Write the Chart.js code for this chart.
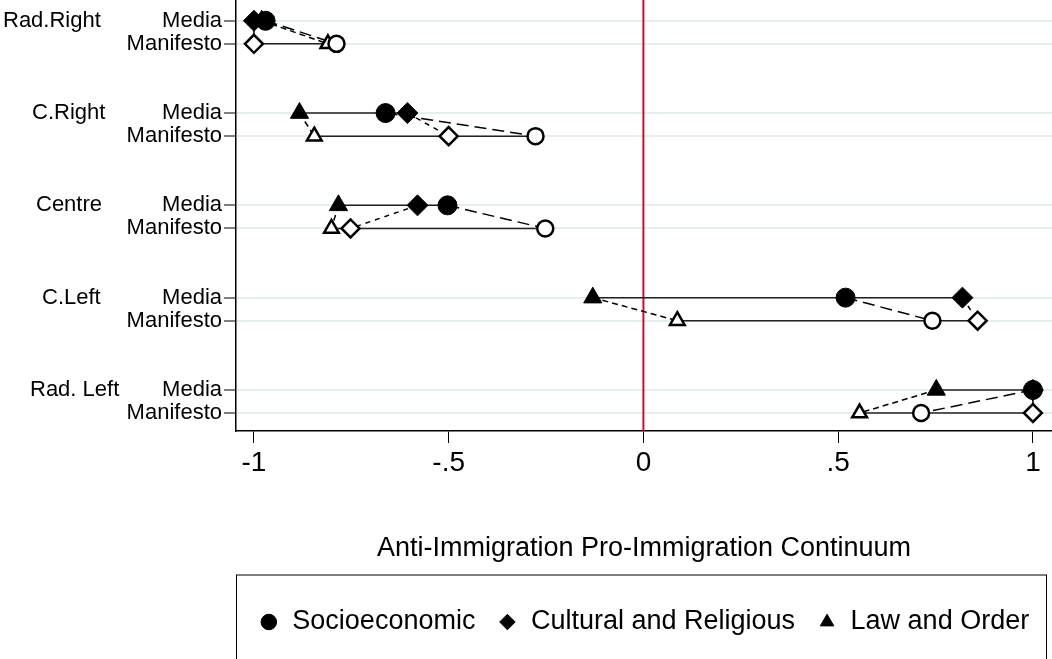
<!DOCTYPE html>
<html>
<head>
<meta charset="utf-8">
<title>Immigration positions by party family</title>
<script src="https://cdn.jsdelivr.net/npm/chart.js@4.4.1/dist/chart.umd.min.js"></script>
<style>
  html, body { margin: 0; padding: 0; background: #fff; }
  #wrap { width: 1052px; height: 659px; }
</style>
</head>
<body>
<div id="wrap"><canvas id="continuumChart" width="1052" height="659"></canvas></div>
<script>
// Party families (top to bottom) and the two sources per family
const groups = ['Rad.Right', 'C.Right', 'Centre', 'C.Left', 'Rad. Left'];
const sources = ['Media', 'Manifesto'];

// Positions on the anti/pro immigration continuum
const socioMedia       = [-0.97, -0.662, -0.503, 0.519, 1.0];
const socioManifesto   = [-0.788, -0.277, -0.252, 0.742, 0.713];
const cultureMedia     = [-1.0, -0.606, -0.58, 0.819, 1.0];
const cultureManifesto = [-1.0, -0.50, -0.752, 0.858, 1.0];
const lawMedia         = [-0.98, -0.883, -0.783, -0.13, 0.752];
const lawManifesto     = [-0.81, -0.845, -0.801, 0.087, 0.555];

const xTicks = [-1, -0.5, 0, 0.5, 1];
const zeroLine = 0;

Chart.defaults.font.family = '"Liberation Sans", Arial, Helvetica, sans-serif';
Chart.defaults.color = '#000';

// each family takes 4 slots on the y scale: media row, manifesto row, gap
const rowY = (g, s) => g * 4 + s;
const rowValues = [];
groups.forEach((_, g) => sources.forEach((_, s) => rowValues.push(rowY(g, s))));

function markerPoints(values, s) {
  return values.map((v, g) => ({ x: v, y: rowY(g, s) }));
}

function connectorPoints(media, manifesto) {
  const pts = [];
  groups.forEach((_, g) => {
    pts.push({ x: media[g], y: rowY(g, 0) }, { x: manifesto[g], y: rowY(g, 1) }, { x: NaN, y: NaN });
  });
  return pts;
}

function rangePoints(series, s) {
  const pts = [];
  groups.forEach((_, g) => {
    const vals = series.map(arr => arr[g]);
    pts.push({ x: Math.min(...vals), y: rowY(g, s) }, { x: Math.max(...vals), y: rowY(g, s) }, { x: NaN, y: NaN });
  });
  return pts;
}

const filled = { backgroundColor: '#000', borderColor: '#000', borderWidth: 1 };
const hollow = { backgroundColor: '#fff', borderColor: '#000', borderWidth: 2.5 };
const lineBase = { showLine: true, pointRadius: 0, spanGaps: false, fill: false, borderColor: '#000', borderWidth: 1.5 };

const datasets = [
  { label: 'Socioeconomic', data: markerPoints(socioMedia, 0), pointStyle: 'circle', pointRadius: 9.5, ...filled },
  { label: 'Cultural and Religious', data: markerPoints(cultureMedia, 0), pointStyle: 'rectRot', pointRadius: 10.5, ...filled },
  { label: 'Law and Order', data: markerPoints(lawMedia, 0), pointStyle: 'triangle', pointRadius: 10.5, ...filled },
  { label: 'Socioeconomic (manifesto)', data: markerPoints(socioManifesto, 1), pointStyle: 'circle', pointRadius: 8, ...hollow },
  { label: 'Cultural (manifesto)', data: markerPoints(cultureManifesto, 1), pointStyle: 'rectRot', pointRadius: 9, ...hollow },
  { label: 'Law (manifesto)', data: markerPoints(lawManifesto, 1), pointStyle: 'triangle', pointRadius: 8.5, ...hollow },
  { label: 'socio link', data: connectorPoints(socioMedia, socioManifesto), ...lineBase, borderDash: [12, 6] },
  { label: 'culture link', data: connectorPoints(cultureMedia, cultureManifesto), ...lineBase, borderDash: [5, 5] },
  { label: 'law link', data: connectorPoints(lawMedia, lawManifesto), ...lineBase, borderDash: [6, 4] },
  { label: 'media range', data: rangePoints([socioMedia, cultureMedia, lawMedia], 0), ...lineBase, borderColor: '#222' },
  { label: 'manifesto range', data: rangePoints([socioManifesto, cultureManifesto, lawManifesto], 1), ...lineBase, borderColor: '#222' }
];

// vertical reference line at 0
const zeroLinePlugin = {
  id: 'zeroLine',
  beforeDatasetsDraw(chart) {
    const { ctx, chartArea, scales } = chart;
    const x = scales.x.getPixelForValue(zeroLine);
    ctx.save();
    ctx.strokeStyle = '#c8102e';
    ctx.lineWidth = 2;
    ctx.beginPath();
    ctx.moveTo(x, chartArea.top);
    ctx.lineTo(x, chartArea.bottom);
    ctx.stroke();
    ctx.restore();
  }
};

// family names to the left of the Media/Manifesto labels, plus the legend frame
const groupLabelX = [3, 32, 36, 42, 30];
const extrasPlugin = {
  id: 'extras',
  afterDraw(chart) {
    const { ctx, scales, legend } = chart;
    ctx.save();
    ctx.fillStyle = '#000';
    ctx.font = '22px "Liberation Sans", Arial, sans-serif';
    ctx.textAlign = 'left';
    ctx.textBaseline = 'middle';
    groups.forEach((name, g) => {
      ctx.fillText(name, groupLabelX[g], scales.y.getPixelForValue(rowY(g, 0)));
    });
    ctx.strokeStyle = '#000';
    ctx.lineWidth = 1;
    ctx.strokeRect(legend.left + 0.5, legend.top - 11.5, legend.width - 6, 120);
    ctx.restore();
  }
};

new Chart(document.getElementById('continuumChart'), {
  type: 'scatter',
  data: { datasets },
  options: {
    responsive: false,
    animation: false,
    events: [],
    layout: { autoPadding: false, padding: { top: 0, right: 0, left: 0, bottom: 13.5 } },
    scales: {
      x: {
        type: 'linear',
        min: -1.046,
        max: 1.049,
        afterBuildTicks: s => { s.ticks = xTicks.map(v => ({ value: v })); },
        afterFit: s => { s.height = 155.5; s.paddingLeft = 0; s.paddingRight = 0; },
        ticks: {
          callback: v => String(v).replace('0.', '.'),
          font: { size: 28 },
          color: '#000',
          padding: 3,
          maxRotation: 0
        },
        grid: { drawOnChartArea: false, tickColor: '#000', tickLength: 12 },
        border: { color: '#000', width: 1.5 },
        title: {
          display: true,
          text: 'Anti-Immigration Pro-Immigration Continuum',
          font: { size: 27 },
          color: '#000',
          padding: { top: 0, bottom: 22 }
        }
      },
      y: {
        type: 'linear',
        reverse: true,
        min: -0.9,
        max: 17.78,
        afterBuildTicks: s => { s.ticks = rowValues.map(v => ({ value: v })); },
        afterFit: s => { s.width = 236; s.paddingTop = 0; s.paddingBottom = 0; },
        ticks: {
          callback: (v, i) => sources[i % 2],
          font: { size: 22 },
          color: '#000',
          padding: 2,
          autoSkip: false
        },
        grid: { color: '#e6eef0', lineWidth: 2, tickColor: '#000', tickLength: 12, tickWidth: 1 },
        border: { color: '#000', width: 1.5 }
      }
    },
    plugins: {
      tooltip: { enabled: false },
      legend: {
        position: 'bottom',
        fullSize: false,
        labels: {
          usePointStyle: true,
          boxWidth: 20,
          boxHeight: 11,
          padding: 22,
          color: '#000',
          font: { size: 27 },
          filter: item => item.datasetIndex < 3
        }
      }
    }
  },
  plugins: [zeroLinePlugin, extrasPlugin]
});
</script>
</body>
</html>
